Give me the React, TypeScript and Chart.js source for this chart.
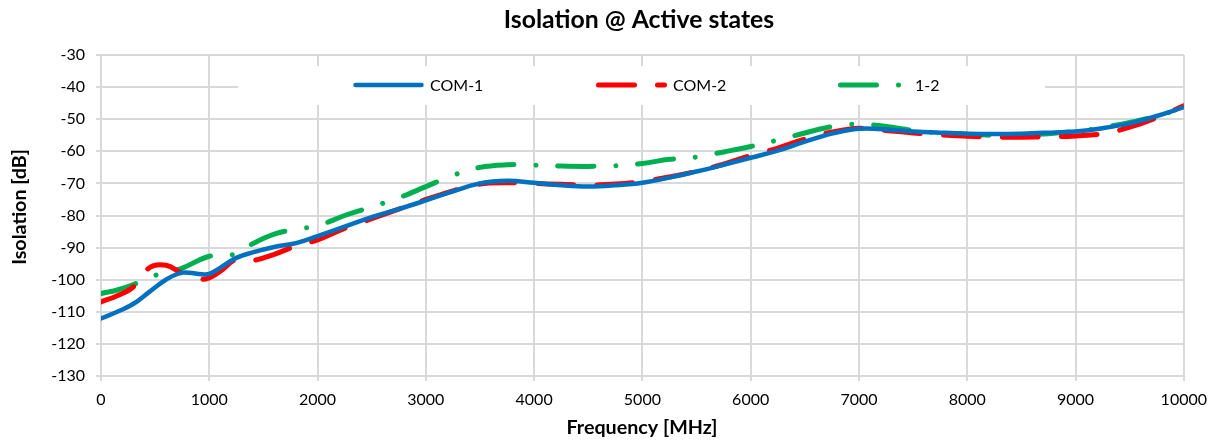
import React, { useEffect, useRef } from "react";
import { Chart, registerables } from "chart.js";

Chart.register(...registerables);

// ---- Data ----
const FREQ_MHZ = [
  0, 150, 300, 450, 600, 750, 900, 1000, 1100, 1250, 1400, 1600, 1800, 2000,
  2250, 2500, 2750, 3000, 3250, 3500, 3750, 4000, 4250, 4500, 4750, 5000,
  5250, 5500, 5750, 6000, 6250, 6500, 6750, 7000, 7250, 7500, 7750, 8000,
  8250, 8500, 8750, 9000, 9250, 9500, 9750, 10000,
];

const COM1_DB = [
  -112.1, -110.0, -107.5, -103.7, -100.0, -97.8, -98.2, -98.2, -96.3, -93.2, -91.5, -89.8, -88.6, -86.4,
  -83.5, -80.5, -78.0, -75.3, -72.5, -70.0, -69.2, -69.8, -70.6, -71.0, -70.6, -69.8,
  -68.2, -66.3, -64.2, -62.0, -59.8, -57.0, -54.5, -53.0, -53.2, -53.8, -54.2, -54.5,
  -54.6, -54.5, -54.2, -53.8, -52.8, -51.3, -49.0, -46.3,
];

const COM2_DB = [
  -106.9, -105.0, -102.2, -96.2, -95.5, -98.0, -99.8, -99.4, -97.4, -93.7, -94.0, -92.1, -89.5, -87.6,
  -84.0, -81.0, -78.0, -75.0, -72.3, -70.2, -69.8, -70.0, -70.3, -70.5, -70.2, -69.4,
  -68.0, -66.2, -64.0, -61.3, -59.0, -56.2, -54.0, -52.8, -53.5, -54.3, -54.9, -55.3,
  -55.6, -55.6, -55.5, -55.2, -54.5, -52.5, -49.5, -45.8,
];

const ONE_TWO_DB = [
  -104.3, -103.2, -101.5, -99.2, -97.8, -96.4, -94.0, -92.7, -92.3, -91.9, -88.8, -85.8, -84.3, -83.2,
  -80.0, -77.3, -74.5, -71.0, -67.5, -65.0, -64.2, -64.3, -64.6, -64.7, -64.5, -63.8,
  -62.5, -61.8, -60.2, -58.5, -56.5, -54.3, -52.3, -51.5, -52.3, -53.5, -54.3, -54.7,
  -55.0, -55.0, -54.5, -53.8, -52.6, -51.0, -49.0, -46.5,
];

const SERIES_NAMES = ["COM-1", "COM-2", "1-2"];
const SERIES_COLORS = ["#0070C0", "#FF0000", "#00B050"];
const SERIES_DASHES: number[][] = [[], [36, 23], [36, 22, 0.01, 22]];
const SERIES_WIDTHS = [4.5, 5, 5];

const X_MIN = 0;
const X_MAX = 10000;
const X_STEP = 1000;
const Y_MIN = -130;
const Y_MAX = -30;
const Y_STEP = 10;

const CHART_TITLE = "Isolation @ Active states";
const X_TITLE = "Frequency [MHz]";
const Y_TITLE = "Isolation [dB]";

const FONT = "Lato, 'Open Sans', sans-serif";

const toPoints = (vals: number[]) => FREQ_MHZ.map((x, i) => ({ x, y: vals[i] }));

const overlayPlugin = {
  id: "overlay",
  beforeDatasetsDraw(chart: any) {
    const ctx: CanvasRenderingContext2D = chart.ctx;
    const a = chart.chartArea;
    ctx.save();
    // legend box (inside plot area)
    const boxL = a.left + 137;
    const boxT = a.top + 11;
    ctx.fillStyle = "#ffffff";
    ctx.fillRect(boxL, boxT, 807, 39);
    const cy = boxT + 19;
    const starts = [a.left + 252, a.left + 495, a.left + 737];
    SERIES_NAMES.forEach((name, i) => {
      const sx = starts[i];
      ctx.save();
      ctx.strokeStyle = SERIES_COLORS[i];
      ctx.lineWidth = SERIES_WIDTHS[i];
      ctx.lineCap = "round";
      ctx.setLineDash(SERIES_DASHES[i]);
      ctx.beginPath();
      ctx.moveTo(sx + 2.5, cy);
      ctx.lineTo(sx + 68.5, cy);
      ctx.stroke();
      ctx.restore();
      ctx.fillStyle = "#000";
      ctx.font = `16px ${FONT}`;
      ctx.textAlign = "left";
      ctx.textBaseline = "middle";
      ctx.fillText(name, sx + 77, cy + 1);
    });
    ctx.restore();
  },
  afterDraw(chart: any) {
    const ctx: CanvasRenderingContext2D = chart.ctx;
    const a = chart.chartArea;
    ctx.save();
    ctx.fillStyle = "#000";
    ctx.textAlign = "center";
    ctx.textBaseline = "middle";
    ctx.font = `bold 24.8px ${FONT}`;
    ctx.fillText(CHART_TITLE, a.left + 538, 20);
    ctx.font = `bold 19.7px ${FONT}`;
    ctx.fillText(X_TITLE, a.left + 541, 428);
    ctx.translate(20, 207);
    ctx.rotate(-Math.PI / 2);
    ctx.fillText(Y_TITLE, 0, 0);
    ctx.restore();
  },
};

export default function App() {
  const ref = useRef<HTMLCanvasElement | null>(null);

  useEffect(() => {
    if (!ref.current) return;
    const seriesVals = [COM1_DB, COM2_DB, ONE_TWO_DB];
    const chart = new Chart(ref.current, {
      type: "line",
      data: {
        datasets: SERIES_NAMES.map((name, i) => ({
          label: name,
          data: toPoints(seriesVals[i]),
          borderColor: SERIES_COLORS[i],
          backgroundColor: SERIES_COLORS[i],
          borderWidth: SERIES_WIDTHS[i],
          borderDash: SERIES_DASHES[i],
          borderCapStyle: "round",
          borderJoinStyle: "round",
          pointRadius: 0,
          pointHoverRadius: 0,
          tension: 0.4,
          fill: false,
        })),
      },
      options: {
        animation: false,
        responsive: false,
        maintainAspectRatio: false,
        layout: { padding: { top: 55, right: 29, left: 0, bottom: 0 } },
        plugins: {
          legend: { display: false },
          title: { display: false },
          tooltip: { enabled: false },
        },
        scales: {
          x: {
            type: "linear",
            min: X_MIN,
            max: X_MAX,
            afterFit: (s: any) => {
              s.height = 66;
            },
            ticks: {
              stepSize: X_STEP,
              color: "#000",
              font: { family: FONT, size: 16 },
              padding: 9,
              maxRotation: 0,
              callback: (v: any) => String(v),
            },
            grid: { color: "#d9d9d9", lineWidth: 2, tickLength: 5 },
            border: { color: "#d9d9d9", width: 2 },
          },
          y: {
            min: Y_MIN,
            max: Y_MAX,
            afterFit: (s: any) => {
              s.width = 101;
            },
            ticks: {
              stepSize: Y_STEP,
              color: "#000",
              font: { family: FONT, size: 16 },
              padding: 11,
              callback: (v: any) => String(v),
            },
            grid: { color: "#d9d9d9", lineWidth: 2, tickLength: 5 },
            border: { color: "#d9d9d9", width: 2 },
          },
        },
      },
      plugins: [overlayPlugin],
    });
    return () => chart.destroy();
  }, []);

  return (
    <div style={{ position: "fixed", left: 0, top: 0, width: 1216, height: 442, background: "#fff" }}>
      <canvas ref={ref} width={1216} height={442} style={{ display: "block" }} />
    </div>
  );
}
